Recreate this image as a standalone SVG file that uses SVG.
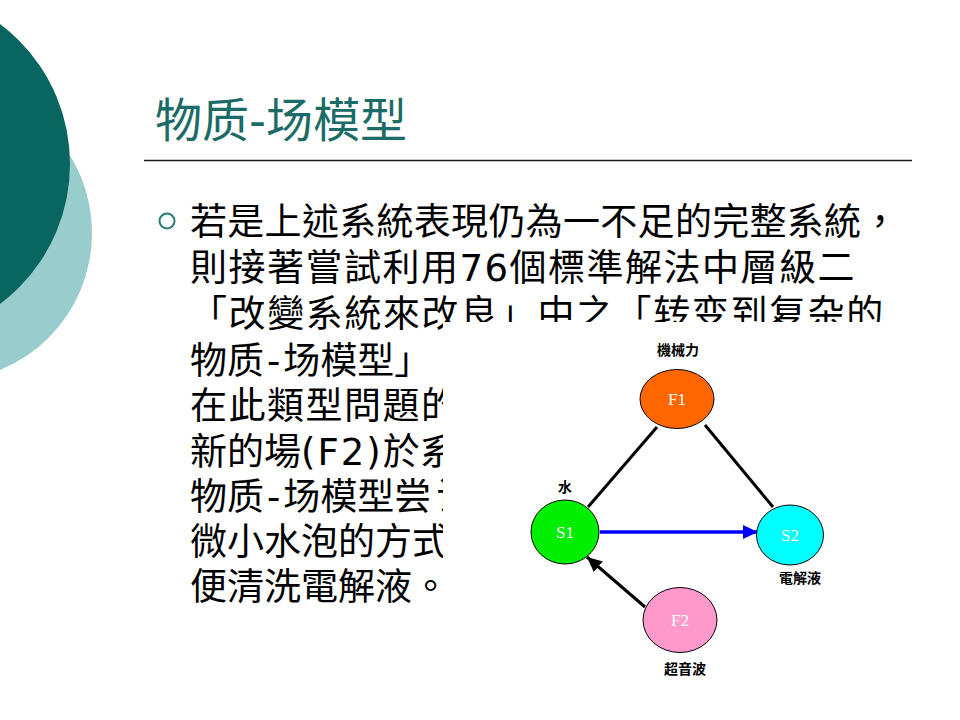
<svg xmlns="http://www.w3.org/2000/svg" width="960" height="720" viewBox="0 0 960 720">
  <style>
    .title { font-family: "Noto Sans CJK TC", "Noto Sans CJK SC", sans-serif; font-size: 47px; fill: #1B6B66; }
    .body { font-family: "DejaVu Sans", "Noto Sans CJK TC", sans-serif; font-size: 37px; fill: #000; }
    .lbl { font-family: "Noto Sans CJK TC", sans-serif; font-size: 14px; font-weight: 700; fill: #000; text-anchor: middle; }
    .nt { font-family: "Liberation Serif", serif; font-size: 17px; fill: #fff; text-anchor: middle; }
    .node { stroke: #000; stroke-width: 1; }
    .edge { stroke: #000; stroke-width: 3; fill: none; }
  </style>
  <defs>
    <clipPath id="textclip">
      <path d="M0 0H960V322H443V720H0Z"/>
    </clipPath>
    <marker id="arrBlue" markerUnits="userSpaceOnUse" markerWidth="15" markerHeight="14" refX="15" refY="7" orient="auto">
      <path d="M0,0 L15,7 L0,14 Z" fill="#0000FF"/>
    </marker>
    <marker id="arrBlack" markerUnits="userSpaceOnUse" markerWidth="15" markerHeight="14" refX="15" refY="7" orient="auto">
      <path d="M0,0 L15,7 L0,14 Z" fill="#000"/>
    </marker>
  </defs>
  <rect width="960" height="720" fill="#fff"/>
  <g id="decor">
    <circle cx="-56" cy="233" r="148" fill="#99CCCC"/>
    <circle cx="-105" cy="164" r="175" fill="#08655F"/>
  </g>
  <g id="title">
    <text class="title" x="155" y="137">物质<tspan font-family="DejaVu Sans">-</tspan>场模型</text>
    <line x1="144" y1="160.5" x2="912" y2="160.5" stroke="#1a1a1a" stroke-width="1.5"/>
  </g>
  <g id="bodytext" clip-path="url(#textclip)">
    <circle cx="167" cy="221" r="7.5" fill="none" stroke="#2A7B76" stroke-width="2"/>
    <text class="body" x="190" y="235" letter-spacing="0.3">若是上述系統表現仍為一不足的完整系統，</text>
    <text class="body" x="190" y="281" letter-spacing="1.5">則接著嘗試利用76個標準解法中層級二</text>
    <text class="body" x="190" y="327" letter-spacing="1.6">「改變系統來改良」中之「转变到复杂的</text>
    <text class="body" x="190" y="374">物质<tspan dx="3">-</tspan><tspan dx="3">场模型」</tspan></text>
    <text class="body" x="190" y="419" letter-spacing="1.5">在此類型問題的</text>
    <text class="body" x="190" y="465">新的場<tspan letter-spacing="2">(F2)</tspan>於系</text>
    <text class="body" x="190" y="510">物质<tspan dx="3">-</tspan><tspan dx="3">场模型尝</tspan><tspan dx="5">试</tspan></text>
    <text class="body" x="190" y="555">微小水泡的方式</text>
    <text class="body" x="190" y="600">便清洗電解液。</text>
  </g>
  <g id="connectors">
    <line class="edge" x1="588" y1="507" x2="657" y2="427"/>
    <line class="edge" x1="705" y1="425" x2="773" y2="507"/>
    <line x1="600" y1="532" x2="758" y2="532" stroke="#0000FF" stroke-width="3.5" marker-end="url(#arrBlue)"/>
    <line class="edge" x1="645" y1="607" x2="587" y2="557" marker-end="url(#arrBlack)"/>
  </g>
  <g id="node-F1">
    <ellipse class="node" cx="677" cy="399" rx="37" ry="29.5" fill="#FF6600"/>
    <text class="nt" x="677" y="405">F1</text>
    <text class="lbl" x="678" y="355">機械力</text>
  </g>
  <g id="node-S1">
    <ellipse class="node" cx="565" cy="532" rx="34" ry="32" fill="#00EE00"/>
    <text class="nt" x="565" y="538">S1</text>
    <text class="lbl" x="565" y="492">水</text>
  </g>
  <g id="node-S2">
    <ellipse class="node" cx="790" cy="535" rx="33.5" ry="30" fill="#00FFFF"/>
    <text class="nt" x="790" y="541">S2</text>
    <text class="lbl" x="800" y="583">電解液</text>
  </g>
  <g id="node-F2">
    <ellipse class="node" cx="680" cy="620" rx="37" ry="32.5" fill="#FF99CC"/>
    <text class="nt" x="680" y="626">F2</text>
    <text class="lbl" x="685" y="674">超音波</text>
  </g>
</svg>
